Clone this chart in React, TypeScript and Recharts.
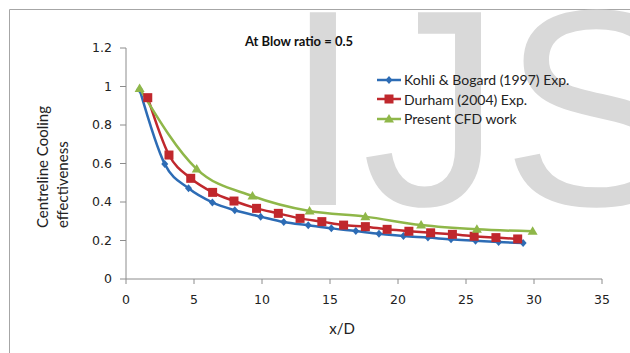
import React from 'react';
import { LineChart, Line, XAxis, YAxis } from 'recharts';

// x/D positions and centreline effectiveness
const kohliX = [1.0, 2.85, 4.6, 6.35, 8.0, 9.9, 11.6, 13.4, 15.1, 16.9, 18.6, 20.4, 22.2, 23.9, 25.7, 27.4, 29.2];
const kohliY = [0.985, 0.597, 0.471, 0.398, 0.357, 0.324, 0.296, 0.279, 0.263, 0.249, 0.235, 0.223, 0.215, 0.206, 0.199, 0.192, 0.187];

const durhamX = [1.6, 3.16, 4.76, 6.37, 7.94, 9.6, 11.2, 12.8, 14.4, 16.0, 17.6, 19.2, 20.8, 22.4, 24.0, 25.6, 27.2, 28.8];
const durhamY = [0.942, 0.644, 0.523, 0.45, 0.405, 0.367, 0.341, 0.315, 0.298, 0.28, 0.272, 0.258, 0.248, 0.24, 0.232, 0.222, 0.215, 0.208];

const cfdX = [1.0, 5.2, 9.3, 13.5, 17.6, 21.7, 25.8, 29.9];
const cfdY = [0.99, 0.571, 0.431, 0.353, 0.324, 0.28, 0.258, 0.248];

const xTicks = [0, 5, 10, 15, 20, 25, 30, 35];
const yTicks = [0, 0.2, 0.4, 0.6, 0.8, 1, 1.2];

const seriesNames = ['Kohli & Bogard (1997) Exp.', 'Durham (2004) Exp.', 'Present CFD work'];

const BLUE = '#2d6cb5';
const RED = '#c0282d';
const GREEN = '#8fb749';

const toPoints = (xs: number[], ys: number[]) => xs.map((x, i) => ({ x, y: ys[i] }));

const kohliData = toPoints(kohliX, kohliY);
const durhamData = toPoints(durhamX, durhamY);
const cfdData = toPoints(cfdX, cfdY);

const Marker = ({ kind, cx, cy }: { kind: string; cx: number; cy: number }) => {
    if (kind === 'diamond') {
        return <path d={`M${cx},${cy - 4}L${cx + 3.5},${cy}L${cx},${cy + 4}L${cx - 3.5},${cy}Z`} fill={BLUE} />;
    }
    if (kind === 'square') {
        return <rect x={cx - 4.5} y={cy - 4.5} width={9} height={9} fill={RED} />;
    }
    return <path d={`M${cx},${cy - 5}L${cx + 5},${cy + 3.5}L${cx - 5},${cy + 3.5}Z`} fill={GREEN} />;
};

const dot = (kind: string) => (props: any) => {
    const { cx, cy, index } = props;
    if (cx == null || cy == null) return <g key={`d-${kind}-${index}`} />;
    return <Marker key={`d-${kind}-${index}`} kind={kind} cx={cx} cy={cy} />;
};

const legendItems = [
    { name: seriesNames[0], color: BLUE, kind: 'diamond' },
    { name: seriesNames[1], color: RED, kind: 'square' },
    { name: seriesNames[2], color: GREEN, kind: 'triangle' },
];

const tickStyle = { fill: '#222', fontSize: 12.5, fontFamily: 'DejaVu Sans' };

export default function App() {
    return (
        <div style={{ position: 'absolute', left: 0, top: 0, width: 630, height: 353, background: '#fff', overflow: 'hidden' }}>
            {/* backdrop: frame, watermark, titles */}
            <svg width={630} height={353} style={{ position: 'absolute', left: 0, top: 0 }}>
                <line x1={9.5} y1={9.5} x2={9.5} y2={353} stroke="#a6a6a6" />
                <line x1={9.5} y1={9.5} x2={630} y2={9.5} stroke="#a6a6a6" />
                <text x={284} y={205} fontFamily="Liberation Sans" fontSize={280} fill="#d9d9d9">IJS</text>
                <text x={299} y={46} textAnchor="middle" fontFamily="Lato" fontWeight="bold" fontSize={13} fill="#111">
                    At Blow ratio = 0.5
                </text>
                <text transform="translate(42,228) rotate(-90)" dominantBaseline="central" fontFamily="Lato" fontSize={15} fill="#222">
                    Centreline Cooling
                </text>
                <text transform="translate(62,228) rotate(-90)" dominantBaseline="central" fontFamily="Lato" fontSize={15} fill="#222">
                    effectiveness
                </text>
                <text x={342} y={334} textAnchor="middle" fontFamily="Lato" fontSize={15} fill="#222">x/D</text>
            </svg>
            <div style={{ position: 'absolute', left: 0, top: 0 }}>
                <LineChart width={630} height={353} margin={{ top: 48, right: 28, left: 0, bottom: 44 }}>
                    <XAxis
                        type="number"
                        dataKey="x"
                        domain={[0, 35]}
                        ticks={xTicks}
                        allowDataOverflow
                        height={30}
                        stroke="#8c8c8c"
                        tickSize={5}
                        tickMargin={11}
                        tick={tickStyle}
                    />
                    <YAxis
                        type="number"
                        dataKey="y"
                        domain={[0, 1.2]}
                        ticks={yTicks}
                        width={126}
                        stroke="#8c8c8c"
                        tickSize={6}
                        tickMargin={8}
                        tick={tickStyle}
                    />
                    <Line
                        data={kohliData}
                        dataKey="y"
                        name={seriesNames[0]}
                        type="monotone"
                        stroke={BLUE}
                        strokeWidth={2.5}
                        dot={dot('diamond')}
                        isAnimationActive={false}
                    />
                    <Line
                        data={durhamData}
                        dataKey="y"
                        name={seriesNames[1]}
                        type="monotone"
                        stroke={RED}
                        strokeWidth={2.5}
                        dot={dot('square')}
                        isAnimationActive={false}
                    />
                    <Line
                        data={cfdData}
                        dataKey="y"
                        name={seriesNames[2]}
                        type="monotone"
                        stroke={GREEN}
                        strokeWidth={2.5}
                        dot={dot('triangle')}
                        isAnimationActive={false}
                    />
                </LineChart>
            </div>
            {/* legend */}
            <div style={{ position: 'absolute', left: 377, top: 70 }}>
                {legendItems.map(item => (
                    <div key={item.name} style={{ display: 'flex', alignItems: 'center', height: 19.5 }}>
                        <svg width={25} height={12} style={{ marginRight: 2 }}>
                            <line x1={0} y1={6} x2={24} y2={6} stroke={item.color} strokeWidth={2.5} />
                            <Marker kind={item.kind} cx={12} cy={6} />
                        </svg>
                        <span style={{ fontFamily: 'Lato', fontSize: 14, color: '#222', whiteSpace: 'nowrap' }}>{item.name}</span>
                    </div>
                ))}
            </div>
        </div>
    );
}
